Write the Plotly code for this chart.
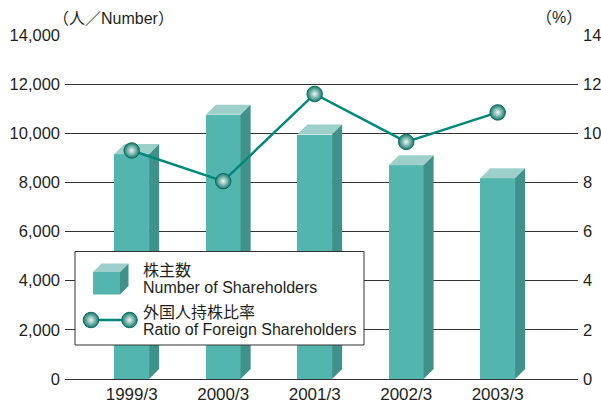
import plotly.graph_objects as go

# Fiscal year-end periods
periods = ["1999/3", "2000/3", "2001/3", "2002/3", "2003/3"]
# Number of shareholders (people)
shareholders = [9150, 10750, 9950, 8700, 8170]
# Ratio of foreign shareholders (%)
foreign_ratio = [9.3, 8.05, 11.6, 9.65, 10.85]

left_ticks = [0, 2000, 4000, 6000, 8000, 10000, 12000, 14000]
right_ticks = [0, 2, 4, 6, 8, 10, 12, 14]

FRONT = "#53b6ae"
TOP = "#9dd0cb"
SIDE = "#3f9189"
LINE = "#00897a"
TEXT = "#231f20"
FONT = "Liberation Sans, Arial, Noto Sans CJK JP, sans-serif"

W, H = 601, 403
M_L, M_R, M_T, M_B = 65, 23, 35, 24

# pseudo-3D bar geometry (axis units)
bar_w = 0.38
depth_x = 0.11
depth_y = 410

# radial gradient: gradient.color is the centre, marker.color the rim
SPHERE = dict(size=15.5, color="#127a6d",
              gradient=dict(type="radial", color="#f2f7f5"),
              line=dict(color="#0c6a5e", width=1))

xs = list(range(len(periods)))

fig = go.Figure()

# front faces
fig.add_trace(go.Bar(
    x=xs, y=shareholders, width=bar_w,
    marker=dict(color=FRONT, line=dict(width=0)),
    name="Number of Shareholders", showlegend=False,
))

# top and side faces
for x, v in zip(xs, shareholders):
    l, r = x - bar_w / 2, x + bar_w / 2
    fig.add_trace(go.Scatter(
        x=[l, r, r + depth_x, l + depth_x, l],
        y=[v, v, v + depth_y, v + depth_y, v],
        fill="toself", fillcolor=TOP, mode="lines",
        line=dict(width=0, color=TOP), hoverinfo="skip", showlegend=False,
    ))
    fig.add_trace(go.Scatter(
        x=[r, r + depth_x, r + depth_x, r, r],
        y=[0, depth_y, v + depth_y, v, 0],
        fill="toself", fillcolor=SIDE, mode="lines",
        line=dict(width=0, color=SIDE), hoverinfo="skip", showlegend=False,
    ))

# foreign ownership ratio
fig.add_trace(go.Scatter(
    x=xs, y=foreign_ratio, yaxis="y2",
    mode="lines+markers",
    line=dict(color=LINE, width=2.5),
    marker=SPHERE,
    name="Ratio of Foreign Shareholders", showlegend=False,
))

# ---- legend panel, drawn on a pixel-unit overlay axis pair ----
LX, LY, LW, LH = 75, 251.5, 289, 93.5  # panel box
leg = dict(xaxis="x2", yaxis="y3", hoverinfo="skip", showlegend=False)

fig.add_trace(go.Scatter(
    x=[LX, LX + LW, LX + LW, LX, LX], y=[LY, LY, LY + LH, LY + LH, LY],
    fill="toself", fillcolor="white", mode="lines",
    line=dict(color="#333333", width=1), **leg,
))

# cube icon
cx, cy, cw, ch, cd = 93, 272, 27, 22.5, 8.5
fig.add_trace(go.Scatter(
    x=[cx, cx + cw, cx + cw, cx, cx], y=[cy, cy, cy + ch, cy + ch, cy],
    fill="toself", fillcolor=FRONT, mode="lines", line=dict(width=0, color=FRONT), **leg,
))
fig.add_trace(go.Scatter(
    x=[cx, cx + cw, cx + cw + cd, cx + cd, cx], y=[cy, cy, cy - cd, cy - cd, cy],
    fill="toself", fillcolor=TOP, mode="lines", line=dict(width=0, color=TOP), **leg,
))
fig.add_trace(go.Scatter(
    x=[cx + cw, cx + cw + cd, cx + cw + cd, cx + cw, cx + cw],
    y=[cy, cy - cd, cy + ch - cd, cy + ch, cy],
    fill="toself", fillcolor=SIDE, mode="lines", line=dict(width=0, color=SIDE), **leg,
))

# line icon
fig.add_trace(go.Scatter(
    x=[91, 129.5], y=[320, 320], mode="lines+markers",
    line=dict(color=LINE, width=2.5), marker=SPHERE, **leg,
))

legend_text = [
    ("株主数", 270.5),
    ("Number of Shareholders", 287.5),
    ("外国人持株比率", 312.5),
    ("Ratio of Foreign Shareholders", 329),
]

annotations = [
    dict(text=t, xref="x2", yref="y3", x=141, y=y, xanchor="left", yanchor="middle",
         showarrow=False, font=dict(size=16, family=FONT, color=TEXT))
    for t, y in legend_text
]
annotations += [
    dict(text="（人／Number）", xref="paper", yref="paper",
         x=-0.028, y=1.049, xanchor="left", yanchor="middle",
         showarrow=False, font=dict(size=16, family=FONT, color=TEXT)),
    dict(text="（%）", xref="paper", yref="paper",
         x=1.012, y=1.052, xanchor="right", yanchor="middle",
         showarrow=False, font=dict(size=16, family=FONT, color=TEXT)),
]

fig.update_layout(
    width=W, height=H,
    margin=dict(l=M_L, r=M_R, t=M_T, b=M_B),
    paper_bgcolor="white", plot_bgcolor="white",
    font=dict(family=FONT, size=16, color=TEXT),
    showlegend=False,
    xaxis=dict(
        range=[-0.729, 4.878], tickvals=xs, ticktext=periods,
        showgrid=False, zeroline=False, showline=False,
        tickfont=dict(size=17), ticks="", ticklabelstandoff=3,
        automargin=False, fixedrange=True,
    ),
    yaxis=dict(
        range=[0, 14000], tickvals=left_ticks, tickformat=",d",
        showgrid=True, gridcolor="#333333", gridwidth=1,
        zeroline=True, zerolinecolor="#333333", zerolinewidth=1,
        tickfont=dict(size=16.5), ticks="", ticklabelstandoff=4, automargin=False,
    ),
    yaxis2=dict(
        range=[0, 14], tickvals=right_ticks, overlaying="y", side="right",
        showgrid=False, zeroline=False, tickfont=dict(size=16.5), ticks="",
        ticklabelstandoff=4, automargin=False,
    ),
    xaxis2=dict(range=[M_L, W - M_R], overlaying="x", visible=False, fixedrange=True),
    yaxis3=dict(range=[H - M_B, M_T], overlaying="y", visible=False, fixedrange=True),
    bargap=0,
    annotations=annotations,
)

fig.write_html("out.html")
